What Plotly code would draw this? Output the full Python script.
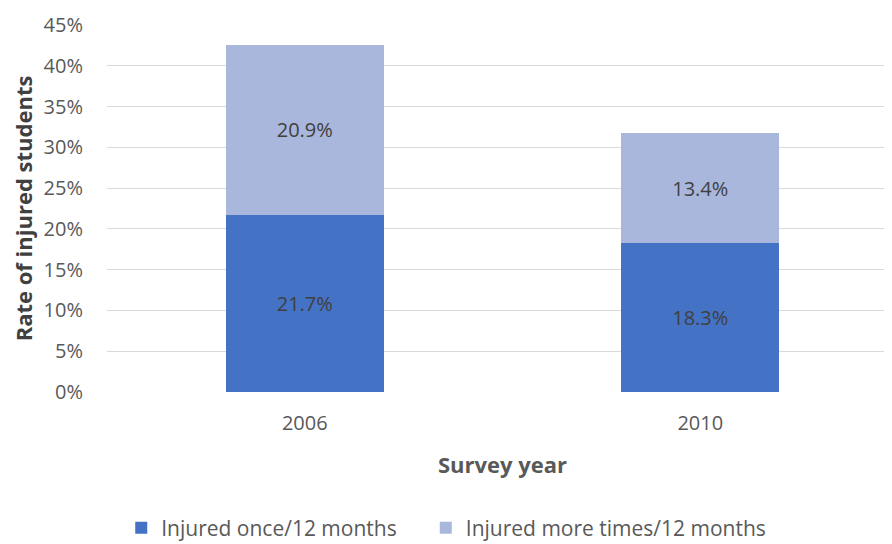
import plotly.graph_objects as go

years = ["2006", "2010"]
once = [21.7, 18.3]
more = [20.9, 13.4]
series_names = ["Injured once/12 months", "Injured more times/12 months"]
y_ticks = [0, 5, 10, 15, 20, 25, 30, 35, 40, 45]

font_family = "Open Sans, Liberation Sans, sans-serif"
txt_color = "#404040"
lab_color = "#595959"

fig = go.Figure()
fig.add_trace(go.Bar(
    x=[0, 1], y=once, name=series_names[0],
    marker=dict(color="#4472C4", line=dict(width=0)),
    text=[f"{v:.1f}%" for v in once], textposition="inside",
    insidetextanchor="middle",
    textfont=dict(color=txt_color, size=20, family=font_family),
    legend="legend",
))
fig.add_trace(go.Bar(
    x=[0, 1], y=more, name=series_names[1],
    marker=dict(color="#A9B7DC", line=dict(width=0)),
    text=[f"{v:.1f}%" for v in more], textposition="inside",
    insidetextanchor="middle",
    textfont=dict(color=txt_color, size=20, family=font_family),
    legend="legend2",
))

legend_common = dict(orientation="h", xanchor="left", y=-0.371, yanchor="middle",
                     font=dict(size=21, color=lab_color), itemwidth=30,
                     bgcolor="rgba(0,0,0,0)")

fig.update_layout(
    barmode="stack",
    bargap=0.6,
    width=892, height=544,
    margin=dict(l=99, r=2, t=17, b=160, autoexpand=False),
    plot_bgcolor="white", paper_bgcolor="white",
    font=dict(family=font_family, color=lab_color, size=20),
    uniformtext=dict(mode=False),
    showlegend=True,
    legend=dict(x=0.018, **legend_common),
    legend2=dict(x=0.403, **legend_common),
    xaxis=dict(
        tickvals=[0, 1], ticktext=years,
        range=[-0.5, 1.5],
        automargin=False,
        title=dict(text="<b>Survey year</b>", font=dict(size=22, color=lab_color), standoff=22),
        tickfont=dict(size=20, color=lab_color),
        ticklabelstandoff=17,
        showline=False, showgrid=False, ticks="", zeroline=False,
    ),
    yaxis=dict(
        range=[0, 45], tickvals=y_ticks, ticktext=[f"{t}%" for t in y_ticks],
        tickfont=dict(size=20, color=lab_color),
        automargin=False,
        ticklabelstandoff=23,
        gridcolor="#D9D9D9", gridwidth=1, zeroline=False, showline=False,
        title=dict(text="<b>Rate of injured students</b>", font=dict(size=22, color=txt_color), standoff=9),
        ticks="", ticklen=0,
    ),
)

fig.write_html("out.html")
